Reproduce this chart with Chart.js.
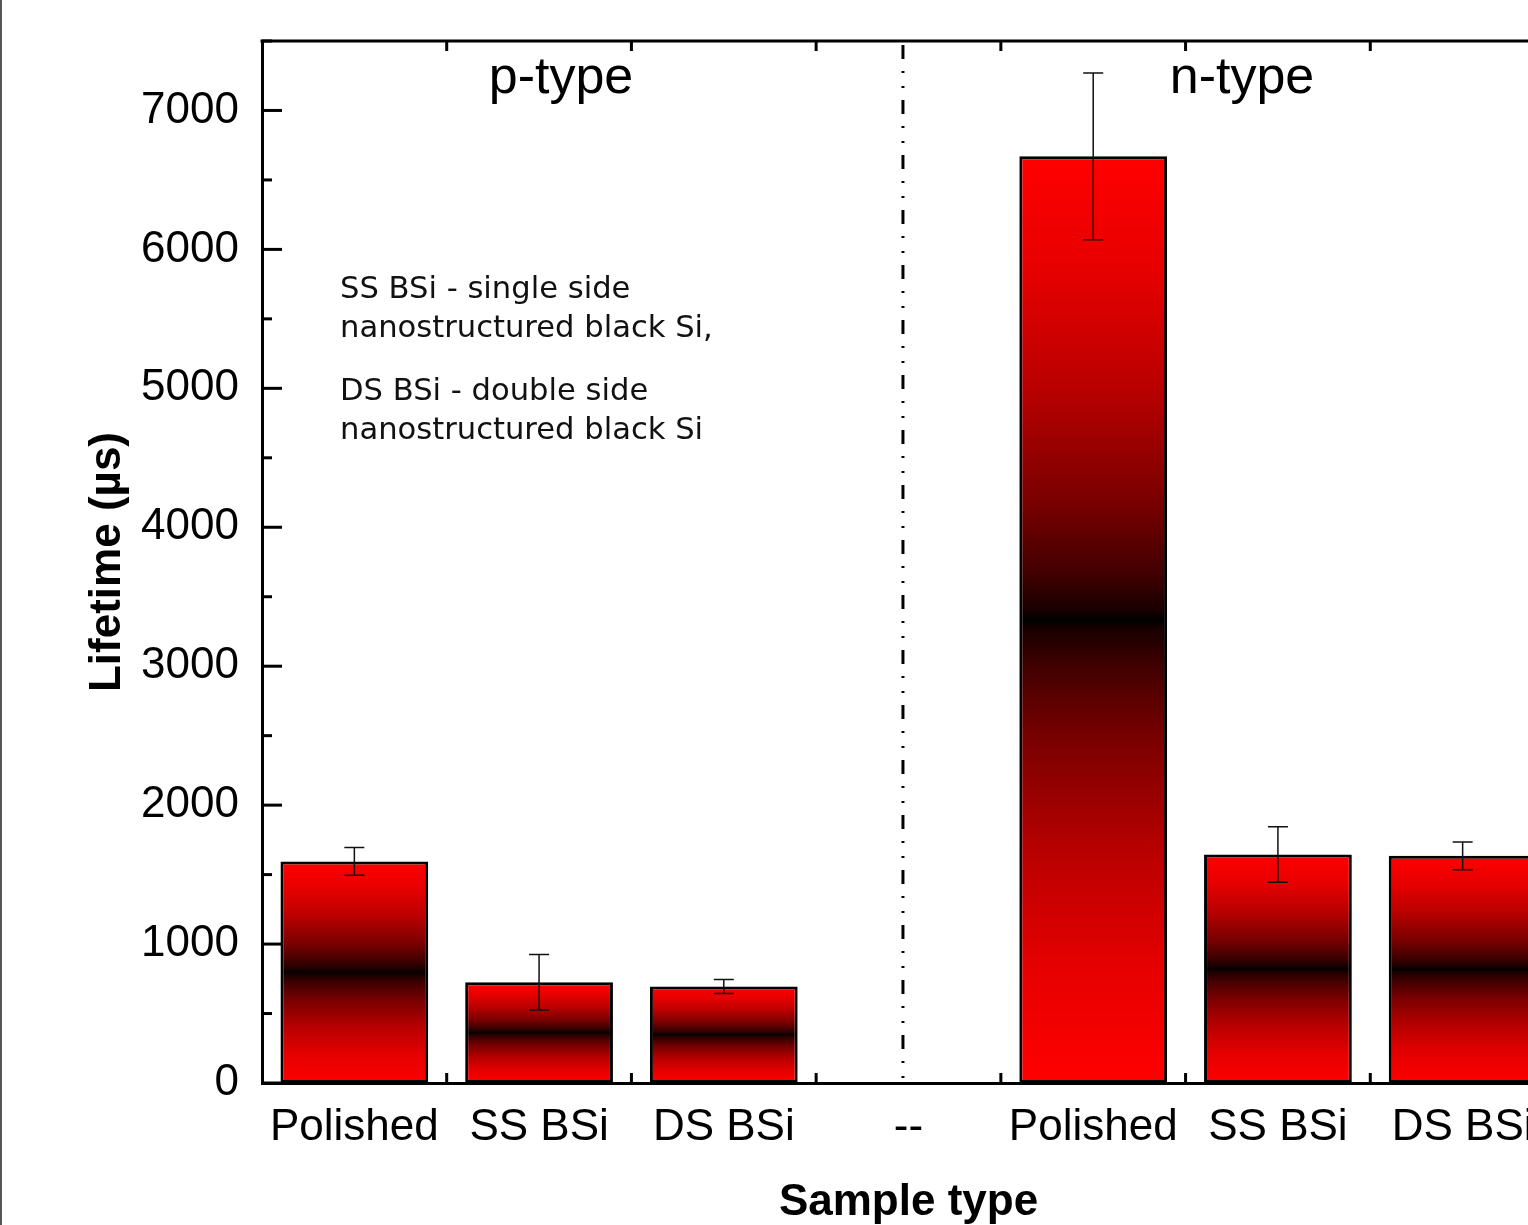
<!DOCTYPE html>
<html>
<head>
<meta charset="utf-8">
<script src="https://cdn.jsdelivr.net/npm/chart.js@4.4.1/dist/chart.umd.min.js"></script>
<style>
  html, body { margin: 0; padding: 0; background: #fff; overflow: hidden; }
  canvas { display: block; }
</style>
</head>
<body>
<canvas id="myChart" width="1600" height="1225"></canvas>
<script>
// sample categories (the "--" slot separates p-type from n-type)
const categories = ["Polished", "SS BSi", "DS BSi", "--", "Polished", "SS BSi", "DS BSi"]
// mean lifetime in microseconds
const lifetimes = [1595, 725, 695, null, 6670, 1645, 1635]
// +/- error
const lifetimeErr = [100, 200, 50, null, 600, 200, 100]
const yTicks = [0, 1000, 2000, 3000, 4000, 5000, 6000, 7000]
const yMinorTicks = [500, 1500, 2500, 3500, 4500, 5500, 6500, 7500]
const dividerPos = 2.97

const labelFont = "Liberation Sans, Arial, sans-serif"
const noteFont = "DejaVu Sans, sans-serif"

// red -> black -> red, black at half height of the bar
function barGradient(c) {
  const chart = c.chart
  if (!chart.chartArea || c.type !== "data" || c.raw == null) return "red"
  const y = chart.scales.y
  const top = y.getPixelForValue(c.raw)
  const base = y.getPixelForValue(0)
  const g = chart.ctx.createLinearGradient(0, top, 0, base)
  const stops = [[0, 255], [0.125, 230], [0.25, 185], [0.375, 120], [0.45, 65], [0.49, 25], [0.5, 0]]
  stops.forEach(([t, v]) => g.addColorStop(t, `rgb(${v},0,0)`))
  stops.slice().reverse().forEach(([t, v]) => { if (t < 0.5) g.addColorStop(1 - t, `rgb(${v},0,0)`) })
  return g
}

const decorations = {
  id: "decorations",
  afterDatasetsDraw(chart) {
    const ctx = chart.ctx
    const x = chart.scales.x
    const y = chart.scales.y
    ctx.save()
    ctx.strokeStyle = "#111"
    ctx.lineWidth = 1.5
    lifetimes.forEach((v, i) => {
      if (v == null) return
      const px = x.getPixelForValue(i)
      const hi = y.getPixelForValue(v + lifetimeErr[i])
      const lo = y.getPixelForValue(v - lifetimeErr[i])
      ctx.beginPath()
      ctx.moveTo(px, hi); ctx.lineTo(px, lo)
      ctx.moveTo(px - 10, hi); ctx.lineTo(px + 10, hi)
      ctx.moveTo(px - 10, lo); ctx.lineTo(px + 10, lo)
      ctx.stroke()
    })
    ctx.restore()
  },
  afterDraw(chart) {
    const ctx = chart.ctx
    const area = chart.chartArea
    const x = chart.scales.x
    const y = chart.scales.y
    ctx.save()
    // page edge line
    ctx.fillStyle = "#555"
    ctx.fillRect(0, 0, 2, chart.height)

    ctx.strokeStyle = "#000"
    ctx.lineWidth = 3
    // top frame
    ctx.beginPath()
    ctx.moveTo(area.left - 1.5, area.top)
    ctx.lineTo(chart.width, area.top)
    ctx.stroke()

    // inward ticks on y
    yTicks.forEach(v => {
      const py = y.getPixelForValue(v)
      ctx.beginPath(); ctx.moveTo(area.left, py); ctx.lineTo(area.left + 20, py); ctx.stroke()
    })
    yMinorTicks.forEach(v => {
      const py = y.getPixelForValue(v)
      ctx.beginPath(); ctx.moveTo(area.left, py); ctx.lineTo(area.left + 10, py); ctx.stroke()
    })
    // inward ticks on x, at category boundaries, bottom and top
    for (let i = 0; i < categories.length; i++) {
      const px = x.getPixelForValue(i + 0.5)
      ctx.beginPath()
      ctx.moveTo(px, area.bottom); ctx.lineTo(px, area.bottom - 10)
      ctx.moveTo(px, area.top); ctx.lineTo(px, area.top + 10)
      ctx.stroke()
    }

    // dash-dot-dot divider
    const dx = x.getPixelForValue(dividerPos)
    ctx.setLineDash([14, 12, 2, 13, 2, 12])
    ctx.beginPath()
    ctx.moveTo(dx, area.top + 4)
    ctx.lineTo(dx, area.bottom)
    ctx.stroke()
    ctx.setLineDash([])

    // group labels
    ctx.fillStyle = "#000"
    ctx.textAlign = "center"
    ctx.textBaseline = "alphabetic"
    ctx.font = `52px ${labelFont}`
    ctx.fillText("p-type", 561, 93)
    ctx.fillText("n-type", 1242, 93)

    // note
    ctx.textAlign = "left"
    ctx.font = `30.6px ${noteFont}`
    ctx.fillStyle = "#111"
    ctx.fillText("SS BSi - single side", 340, 298)
    ctx.fillText("nanostructured black Si,", 340, 337)
    ctx.fillText("DS BSi - double side", 340, 400)
    ctx.fillText("nanostructured black Si", 340, 439)
    ctx.restore()
  },
}

const ctx = document.getElementById("myChart").getContext("2d")
const myChart = new Chart(ctx, {
  type: "bar",
  data: {
    labels: categories,
    datasets: [
      {
        label: "Lifetime",
        data: lifetimes,
        backgroundColor: barGradient,
        borderColor: "#000",
        borderWidth: 3,
        borderSkipped: false,
        barPercentage: 0.8,
        categoryPercentage: 1,
      },
    ],
  },
  options: {
    responsive: false,
    animation: false,
    layout: { padding: { left: 0, top: 41, right: 45, bottom: 0 } },
    plugins: {
      legend: { display: false },
      tooltip: { enabled: false },
    },
    scales: {
      x: {
        grid: { display: false, drawTicks: false },
        border: { display: true, color: "#000", width: 3 },
        ticks: { color: "#000", font: { family: labelFont, size: 44 }, padding: 18, maxRotation: 0, autoSkip: false },
        title: {
          display: true,
          text: "Sample type",
          color: "#000",
          font: { family: labelFont, size: 44, weight: "bold", lineHeight: 1 },
          padding: { top: 0, bottom: 0 },
        },
        afterFit: s => { s.height = 142; s.paddingLeft = 0; s.paddingRight = 0 },
      },
      y: {
        min: 0,
        max: 7500,
        grid: { display: false, drawTicks: false },
        border: { display: true, color: "#000", width: 3 },
        ticks: { color: "#000", font: { family: labelFont, size: 44 }, padding: 23, callback: v => String(v) },
        afterBuildTicks: s => { s.ticks = yTicks.map(v => ({ value: v })) },
        title: {
          display: true,
          text: "Lifetime (µs)",
          color: "#000",
          font: { family: labelFont, size: 44, weight: "bold", lineHeight: 1.2 },
          padding: { top: 81, bottom: 0 },
        },
        afterFit: s => { s.width = 262; s.paddingTop = 0; s.paddingBottom = 0 },
      },
    },
  },
  plugins: [decorations],
})
</script>
</body>
</html>
